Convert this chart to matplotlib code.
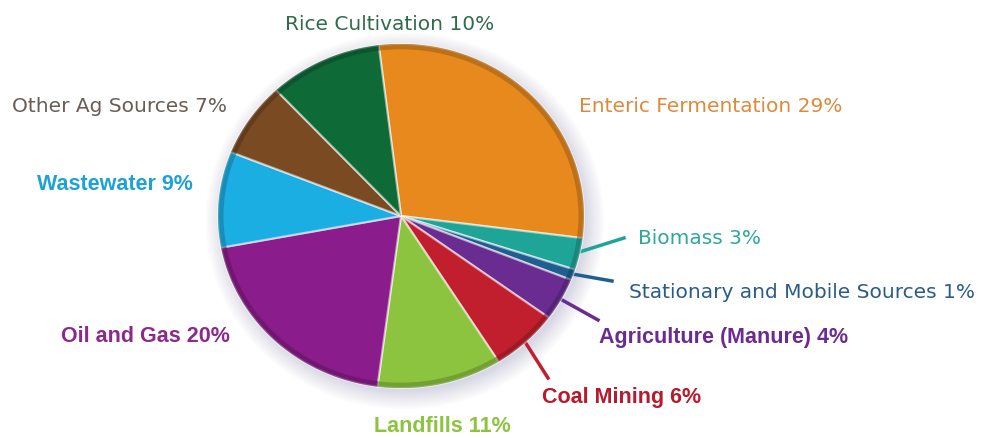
import numpy as np
import matplotlib.pyplot as plt
from matplotlib.colors import to_rgb
from matplotlib.patches import Ellipse

# methane sources, clockwise from the top
labels = ["Enteric Fermentation", "Biomass", "Stationary and Mobile Sources",
          "Agriculture (Manure)", "Coal Mining", "Landfills", "Oil and Gas",
          "Wastewater", "Other Ag Sources", "Rice Cultivation"]
shares = [29, 3, 1, 4, 6, 11, 20, 9, 7, 10]
colors = ["#E8891E", "#1FA597", "#1E5F8F", "#6A2C91", "#C21F2E",
          "#8CC43F", "#8A1C8B", "#1BAEE2", "#7A4A22", "#0E6A37"]
text_colors = ["#E0893A", "#2EA89B", "#2B5C89", "#6A2C91", "#B71A2C",
               "#8CC43F", "#8A2A8C", "#1CA2D4", "#6A5D55", "#2F6C4B"]
bold = [False, False, False, True, True, True, True, True, False, False]

W, H = 986, 438
# label centres in pixels (from top-left)
label_pos = [(711, 107), (700, 238), (802, 293), (724, 338), (622, 398),
             (442, 426), (145, 337), (115, 185), (119, 107), (390, 25)]
# leader line end points (only for the small slices on the right)
leaders = {1: (624, 238), 2: (612, 281), 3: (598, 320), 4: (548, 378)}

# tilted pie: centre and the two radii in pixels
cx, cy, rx, ry = 401, 216, 183, 172

fig = plt.figure(figsize=(W / 100, H / 100), dpi=100)
base = fig.add_axes([0, 0, 1, 1])
base.set_xlim(0, W)
base.set_ylim(0, H)
base.axis("off")

# soft shadow
for k in range(10):
    base.add_patch(Ellipse((cx + 4, H - cy - 5), 2 * (rx + 16 - k * 2),
                           2 * (ry + 16 - k * 2), color="#5a5a9a",
                           alpha=0.025, lw=0, zorder=0))

pax = fig.add_axes([(cx - rx) / W, (H - cy - ry) / H, 2 * rx / W, 2 * ry / H])
wedges, _ = pax.pie(shares, colors=colors, startangle=97, counterclock=False,
                    radius=1, wedgeprops=dict(edgecolor=(1, 1, 1, 0.55), linewidth=1.6))
pax.set_aspect("auto")
pax.set_xlim(-1, 1)
pax.set_ylim(-1, 1)
pax.axis("off")

# darker rim to mimic the bevel
for w, c in zip(wedges, colors):
    t = np.linspace(np.radians(w.theta1), np.radians(w.theta2), 60)
    rgb = np.array(to_rgb(c)) * 0.7
    pax.plot(0.985 * np.cos(t), 0.985 * np.sin(t), color=rgb, lw=4, alpha=0.6,
             solid_capstyle="butt", zorder=3)

for i, w in enumerate(wedges):
    if i in leaders:
        mid = np.radians((w.theta1 + w.theta2) / 2)
        x0 = cx + (rx - 4) * np.cos(mid)
        y0 = H - cy + (ry - 4) * np.sin(mid)
        x1, y1 = leaders[i]
        base.plot([x0, x1], [y0, H - y1], color=colors[i], lw=2.5, zorder=4)

for i, name in enumerate(labels):
    x, y = label_pos[i]
    if bold[i]:
        kw = dict(fontfamily="Liberation Sans", fontweight="bold", fontsize=15.5)
    else:
        kw = dict(fontfamily="DejaVu Sans", fontweight="normal", fontsize=14.5)
    base.text(x, H - y, f"{name} {shares[i]}%", color=text_colors[i],
              ha="center", va="center", **kw)

fig.savefig("out.png", dpi=100)
